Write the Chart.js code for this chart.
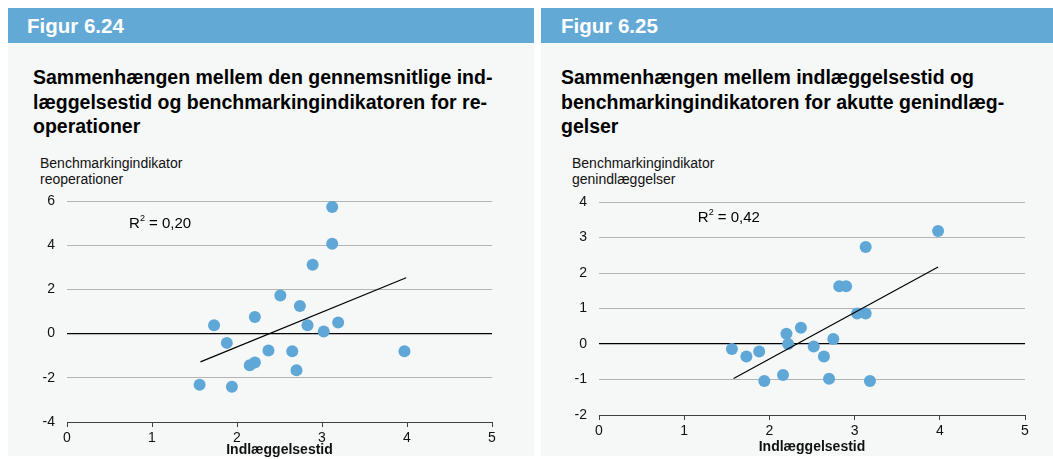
<!DOCTYPE html>
<html>
<head>
<meta charset="utf-8">
<script src="https://cdn.jsdelivr.net/npm/chart.js@4.4.1/dist/chart.umd.min.js"></script>
<style>
  body { margin: 0; width: 1053px; height: 459px; background: #fff; overflow: hidden; font-family: "Liberation Sans", Arial, sans-serif; position: relative; }
  .panel { position: absolute; top: 8px; height: 448px; background: #f6f7f7; }
  .head { position: absolute; left: 0; top: 0; right: 0; height: 35px; line-height: 35px; background: #63a9d6; color: #fff; font-weight: bold; font-size: 20.5px; }
  .titel { position: absolute; font-weight: bold; font-size: 19.5px; line-height: 24.5px; color: #000; }
  .ycap { position: absolute; font-size: 14px; line-height: 16px; color: #111; }
  canvas { position: absolute; }
</style>
</head>
<body>
<div class="panel" style="left:8px;width:526px;">
  <div class="head"><span style="margin-left:19px">Figur 6.24</span></div>
</div>
<div class="panel" style="left:541px;width:512px;">
  <div class="head"><span style="margin-left:20px">Figur 6.25</span></div>
</div>
<div class="titel" style="left:33px;top:65px;">Sammenhængen mellem den gennemsnitlige ind-<br>læggelsestid og benchmarkingindikatoren for re-<br>operationer</div>
<div class="titel" style="left:561px;top:65px;">Sammenhængen mellem indlæggelsestid og<br>benchmarkingindikatoren for akutte genindlæg-<br>gelser</div>
<div class="ycap" style="left:40px;top:155px;">Benchmarkingindikator<br>reoperationer</div>
<div class="ycap" style="left:572px;top:155px;">Benchmarkingindikator<br>genindlæggelser</div>

<canvas id="reopChart" width="526" height="309" style="left:8px;top:150px;"></canvas>
<canvas id="genChart" width="512" height="306" style="left:541px;top:150px;"></canvas>

<script>
// Figur 6.24 - reoperationer
var reopX = [3.12, 3.12, 2.89, 2.51, 2.74, 2.21, 1.73, 2.83, 3.19, 3.02, 1.88, 2.37, 2.65, 3.97, 2.15, 2.21, 2.70, 1.56, 1.94];
var reopY = [5.73, 4.07, 3.12, 1.72, 1.25, 0.75, 0.38, 0.38, 0.50, 0.10, -0.42, -0.76, -0.80, -0.80, -1.43, -1.31, -1.66, -2.31, -2.41];
var reopTrendX = [1.57, 3.99];
var reopTrendY = [-1.28, 2.53];

// Figur 6.25 - genindlæggelser
var genX = [3.98, 3.13, 2.82, 2.90, 3.03, 3.13, 2.37, 2.20, 2.22, 2.75, 2.52, 1.56, 1.88, 1.73, 2.64, 2.16, 2.70, 1.94, 3.18];
var genY = [3.18, 2.73, 1.63, 1.63, 0.86, 0.86, 0.46, 0.29, 0.00, 0.14, -0.07, -0.14, -0.21, -0.35, -0.35, -0.87, -0.98, -1.04, -1.04];
var genTrendX = [1.58, 3.98];
var genTrendY = [-0.97, 2.17];

var tickFont = { family: '"Liberation Sans", Arial, sans-serif', size: 14 };
var prikFarve = '#5ea7d6';

function punkter(xs, ys) {
    return xs.map(function(x, i) { return { x: x, y: ys[i] }; });
}

// R² tekst med hævet 2-tal
var r2Plugin = {
    id: 'r2label',
    afterDatasetsDraw: function(chart, args, opts) {
        var ctx = chart.ctx;
        var px = chart.scales.x.getPixelForValue(opts.x);
        var py = chart.scales.y.getPixelForValue(opts.y);
        ctx.save();
        ctx.fillStyle = '#000';
        ctx.textBaseline = 'middle';
        ctx.font = '15px "Liberation Sans", Arial, sans-serif';
        ctx.fillText('R', px, py);
        var w = ctx.measureText('R').width;
        ctx.font = '9px "Liberation Sans", Arial, sans-serif';
        ctx.fillText('2', px + w, py - 6);
        var w2 = ctx.measureText('2').width;
        ctx.font = '15px "Liberation Sans", Arial, sans-serif';
        ctx.fillText(' = ' + opts.text, px + w + w2, py);
        ctx.restore();
    }
};

function lavChart(id, xs, ys, tx, ty, yMin, yMax, yStep, pad, yWidth, xHeight, r2) {
    return new Chart(document.getElementById(id).getContext('2d'), {
        type: 'scatter',
        data: {
            datasets: [{
                type: 'line',
                data: punkter(tx, ty),
                borderColor: '#000',
                borderWidth: 1.2,
                pointRadius: 0,
                fill: false
            }, {
                data: punkter(xs, ys),
                backgroundColor: prikFarve,
                borderWidth: 0,
                pointRadius: 6
            }]
        },
        options: {
            responsive: false,
            animation: false,
            layout: { padding: pad },
            scales: {
                x: {
                    type: 'linear',
                    min: 0,
                    max: 5,
                    ticks: { stepSize: 1, color: '#111', font: tickFont, padding: 3 },
                    grid: { drawOnChartArea: false, drawTicks: true, tickLength: 5, color: '#404040' },
                    border: { display: true, color: '#404040', width: 1 },
                    title: {
                        display: true,
                        text: 'Indlæggelsestid',
                        color: '#111',
                        font: { family: '"Liberation Sans", Arial, sans-serif', size: 14, weight: 'bold' },
                        padding: { top: 0, bottom: 0 }
                    },
                    afterFit: function(scale) { scale.height = xHeight; }
                },
                y: {
                    min: yMin,
                    max: yMax,
                    ticks: {
                        stepSize: yStep,
                        color: '#111',
                        font: tickFont,
                        padding: 12,
                        callback: function(v) { return String(v); }
                    },
                    grid: {
                        drawTicks: false,
                        color: function(c) {
                            if (c.tick && c.tick.value === 0) return '#000';
                            return '#b4b4b4';
                        },
                        lineWidth: function(c) {
                            if (c.tick && c.tick.value === 0) return 1.3;
                            return 1;
                        }
                    },
                    border: { display: false },
                    afterFit: function(scale) { scale.width = yWidth; }
                }
            },
            plugins: {
                legend: { display: false },
                tooltip: { enabled: false },
                r2label: r2
            }
        },
        plugins: [r2Plugin]
    });
}

lavChart('reopChart', reopX, reopY, reopTrendX, reopTrendY, -4, 6, 2,
    { top: 51, right: 42, left: 0, bottom: 0 }, 59, 37,
    { x: 0.73, y: 4.95, text: '0,20' });

lavChart('genChart', genX, genY, genTrendX, genTrendY, -2, 4, 1,
    { top: 52, right: 28, left: 0, bottom: 0 }, 58, 41,
    { x: 1.16, y: 3.54, text: '0,42' });
</script>
</body>
</html>
